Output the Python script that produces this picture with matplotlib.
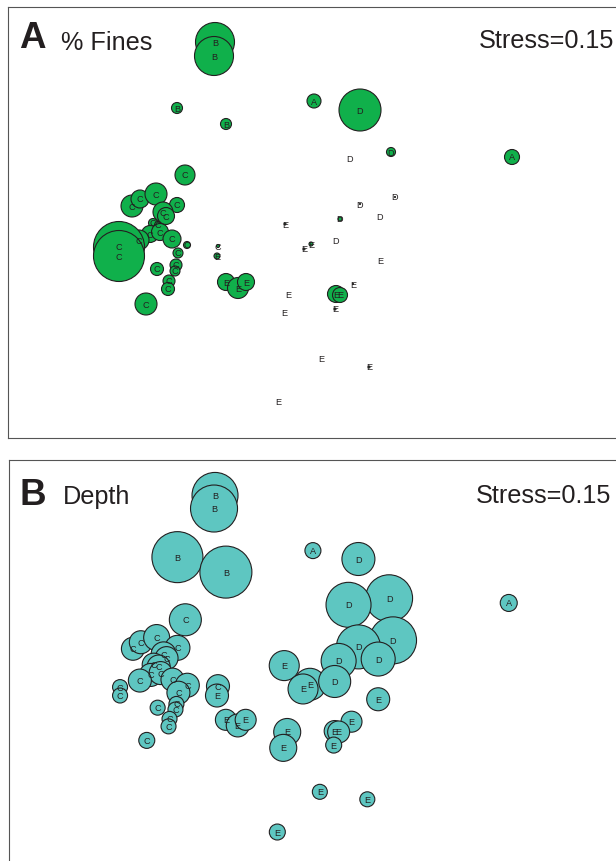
import matplotlib
matplotlib.use("Agg")
import matplotlib.pyplot as plt
import numpy as np

plt.rcParams['font.family'] = ['Liberation Sans', 'DejaVu Sans']

# ---- data: NMDS ordination (same configuration in both panels) ----
groups = ['C'] * 24 + ['E'] * 17 + ['D'] * 8 + ['A'] * 2 + ['B'] * 4

nmds1 = [-1.15, -1.68, -1.60, -1.44, -1.23, -1.37, -1.34, -1.47, -1.42, -1.50,
         -1.40, -1.61, -1.28, -1.81, -1.81, -1.13, -1.22, -1.43, -1.24, -1.25,
         -1.31, -1.32, -1.54, -0.82,
         -0.83, -0.74, -0.62, -0.54, -0.15, 0.11, 0.04, 0.80, 0.53, -0.12,
         0.36, 0.40, 0.35, -0.16, 0.21, 0.69, -0.22,
         0.60, 0.91, 0.50, 0.95, 0.60, 0.40, 0.80, 0.36,
         0.14, 2.12,
         -0.85, -0.86, -1.23, -0.74]

nmds2 = [0.44, 0.13, 0.20, 0.25, 0.14, 0.07, 0.03, -0.04, -0.06, -0.15,
         -0.13, -0.21, -0.20, -0.28, -0.37, -0.26, -0.34, -0.50, -0.46, -0.52,
         -0.62, -0.70, -0.85, -0.27,
         -0.37, -0.63, -0.69, -0.63, -0.05, -0.25, -0.30, -0.41, -0.65, -0.76,
         -0.75, -0.76, -0.90, -0.93, -1.40, -1.48, -1.83,
         1.09, 0.67, 0.60, 0.22, 0.15, 0.00, 0.02, -0.22,
         1.18, 0.62,
         1.77, 1.63, 1.11, 0.95]

# bubble variables (bubble diameter proportional to value)
fines = [21, 23, 19, 23, 16, 21, 18, 10, 8, 18,
         18, 21, 19, 52, 52, 8, 11, 14, 13, 11,
         13, 14, 23, 4,
         7, 18, 22, 18, 3, 5, 3, 0, 2, 0,
         18, 16, 3, 0, 0, 3, 0,
         43, 10, 0, 2, 1, 5, 0, 0,
         15, 16,
         40, 40, 12, 12]

depth = [33, 24, 24, 27, 26, 26, 24, 24, 24, 24,
         24, 24, 24, 16, 16, 25, 24, 16, 16, 16,
         16, 16, 17, 24,
         24, 22, 24, 22, 31, 33, 31, 24, 22, 28,
         22, 23, 17, 28, 16, 16, 17,
         34, 48, 46, 48, 45, 36, 35, 33,
         17, 18,
         47, 48, 52, 53]

panel_letters = ['A', 'B']
panel_titles = ['% Fines', 'Depth']
stress_label = 'Stress=0.15'

# ---- figure ----
W, H = 616, 862
fig = plt.figure(figsize=(W / 100, H / 100), dpi=100)
fig.patch.set_facecolor('white')


def px_axes(l, t, r, b):
    return fig.add_axes([l / W, 1 - b / H, (r - l) / W, (b - t) / H])


axA = px_axes(7.7, 7.7, 630, 439.3)
axA.set_xlim(-2.923, 3.30)
axA.set_ylim(-2.193, 2.123)

axB = px_axes(9, 461, 630, 875)
axB.set_xlim(-2.933, 3.346)
axB.set_ylim(-2.279, 2.149)

x = np.array(nmds1)
y = np.array(nmds2)
edge = '#231f20'

for ax, vals, fc in [(axA, fines, '#10b04b'), (axB, depth, '#5ec6c1')]:
    v = np.array(vals, dtype=float)
    m = v > 0
    diam_pt = np.maximum(v[m] - 1.0, 1.0) * 0.72
    ax.scatter(x[m], y[m], s=diam_pt ** 2, facecolor=fc, edgecolor=edge,
               linewidths=0.8, zorder=2)
    for xi, yi, g in zip(nmds1, nmds2, groups):
        ax.text(xi, yi, g, ha='center', va='center', fontsize=6.6,
                color='#231f20', zorder=3)
    ax.set_xticks([])
    ax.set_yticks([])
    for sp in ax.spines.values():
        sp.set_color('#555555')
        sp.set_linewidth(0.8)

txtc = '#231f20'
# panel A headings
fig.text(19 / W, 1 - 48.5 / H, panel_letters[0], fontsize=26.5, fontweight='bold',
         color=txtc, ha='left', va='baseline')
fig.text(61 / W, 1 - 49.5 / H, panel_titles[0], fontsize=18.2, color=txtc,
         ha='left', va='baseline')
fig.text(614 / W, 1 - 48.5 / H, stress_label, fontsize=18.2, color=txtc,
         ha='right', va='baseline')
# panel B headings
fig.text(19.5 / W, 1 - 505 / H, panel_letters[1], fontsize=26.5, fontweight='bold',
         color=txtc, ha='left', va='baseline')
fig.text(63 / W, 1 - 504 / H, panel_titles[1], fontsize=18.2, color=txtc,
         ha='left', va='baseline')
fig.text(611 / W, 1 - 503.5 / H, stress_label, fontsize=18.2, color=txtc,
         ha='right', va='baseline')

fig.savefig('out.png', dpi=100)
